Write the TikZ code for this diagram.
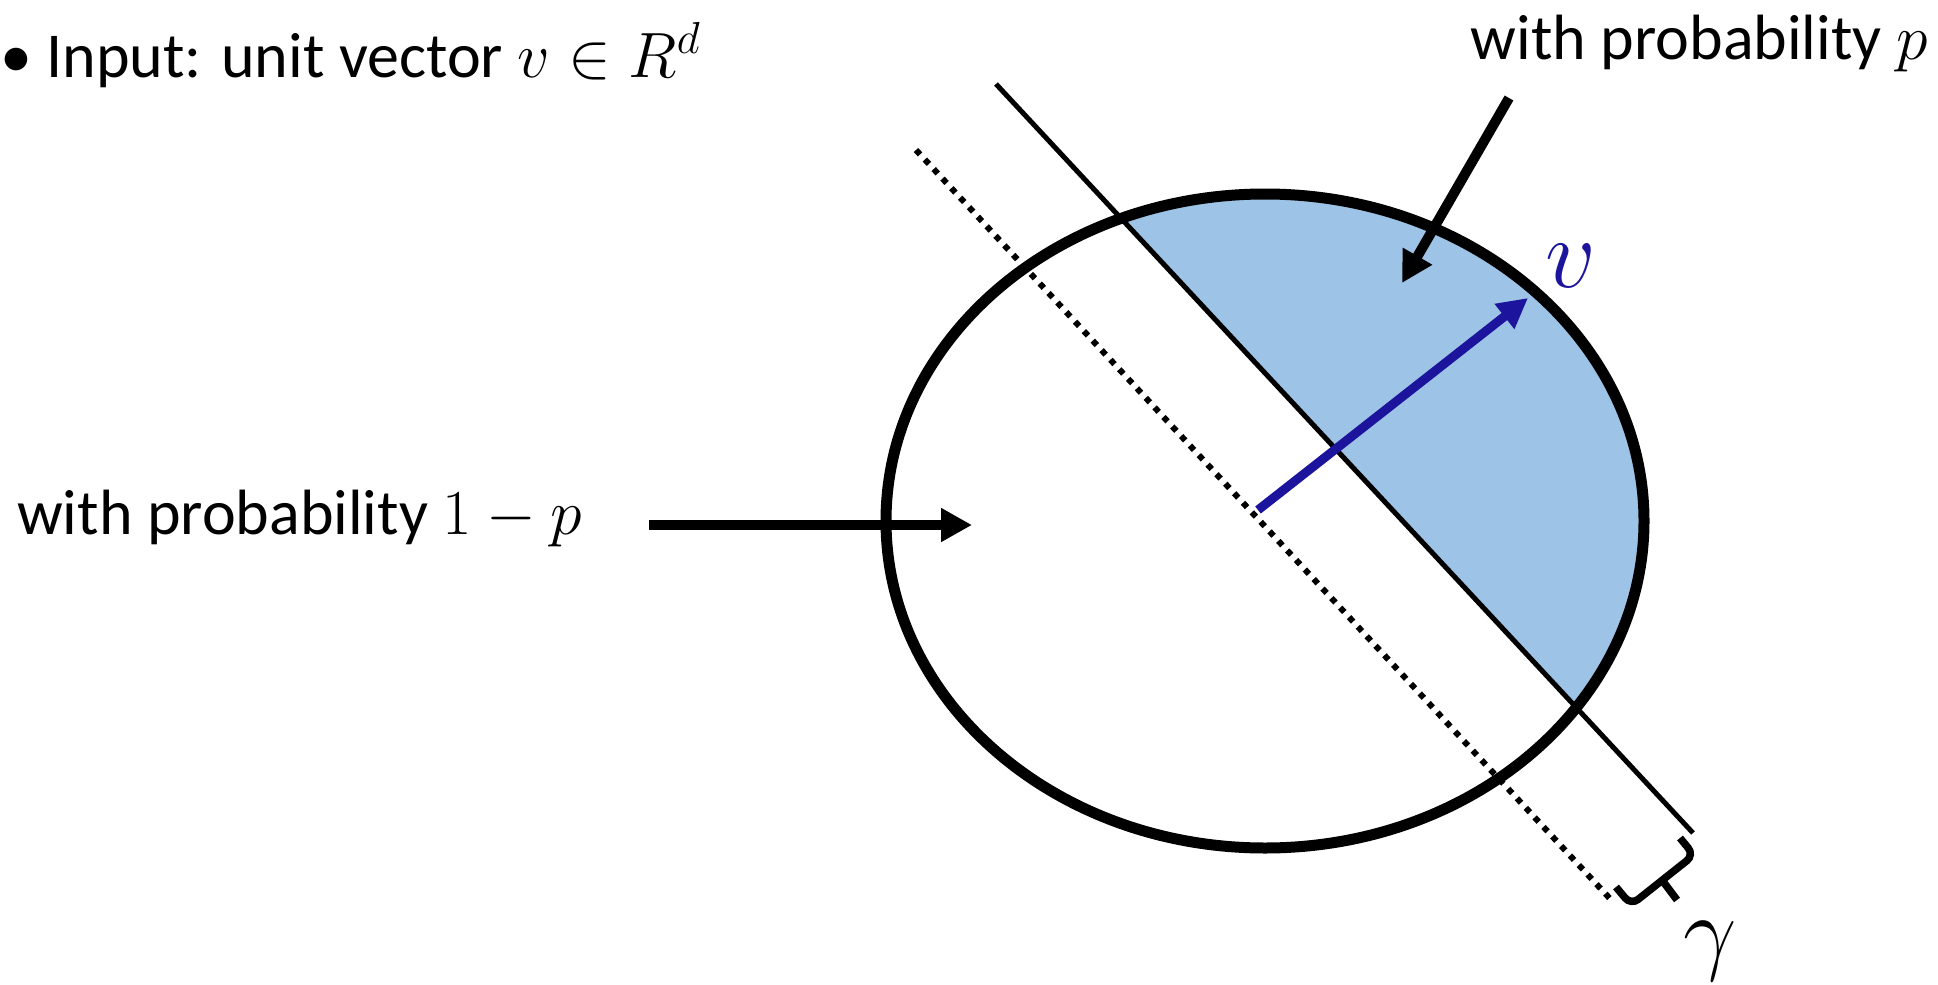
\RequirePackage{fix-cm}
\documentclass[tikz,border=0pt]{standalone}
\usepackage{fontspec}
\setmainfont{Carlito}
\usetikzlibrary{arrows.meta,calc}
\definecolor{segfill}{RGB}{157,195,230}
\definecolor{segedge}{RGB}{65,113,156}
\definecolor{vblue}{RGB}{28,20,156}
\begin{document}
\begin{tikzpicture}[x=1pt,y=-1pt,
  lbl/.style={inner sep=0pt, font=\fontsize{64}{77}\selectfont},
  bigmath/.style={inner sep=0pt, font=\fontsize{100}{120}\selectfont},
  blkarrow/.style={line width=10pt, -{Triangle[length=31pt,width=32pt]}},
  bluearrow/.style={vblue, line width=9pt, -{Triangle[length=30pt,width=30pt]}},
  ellstyle/.style={line width=11pt},
  cutline/.style={line width=5pt},
  dotline/.style={line width=6pt, dash pattern=on 6pt off 7pt},
  bracestyle/.style={line width=7.5pt, rounded corners=9pt}
]
\useasboundingbox (0,0) rectangle (1938,985);

\coordinate (C) at (1265,521);
\coordinate (L1) at (996,84);
\coordinate (L2) at (1693,833);
\coordinate (D1) at (916,150);
\coordinate (D2) at (1614,903);

% shaded cap
\begin{scope}
  \clip (C) ellipse [x radius=379, y radius=327];
  \fill[segfill, draw=segedge, line width=1.5pt, xshift=6pt]
    ($(L1)!-0.3!(L2)$) -- ($(L1)!1.3!(L2)$) -- (2200,1100) -- (2200,-200) -- cycle;
\end{scope}

% ball
\draw[ellstyle] (C) ellipse [x radius=379, y radius=327];

% lines
\draw[cutline] (L1) -- (L2);
\draw[dotline] (D1) -- (D2);

% vector v
\coordinate (vs) at (1258,510);
\coordinate (ve) at (1528,298);
\draw[bluearrow] (vs) -- (ve);
\node[bigmath, text=vblue, anchor=base west] (vlab) at (1545,287) {$v$};

% arrows
\coordinate (a1s) at (1509,98);
\coordinate (a1e) at (1402,283);
\draw[blkarrow] (a1s) -- (a1e);
\coordinate (a2s) at (649,525);
\coordinate (a2e) at (972,525);
\draw[blkarrow] (a2s) -- (a2e);

% bracket with stem and gamma
\coordinate (b1) at (1680,838);
\coordinate (bc1) at (1694,855);
\coordinate (bm) at (1662,880);
\coordinate (bc2) at (1631,905);
\coordinate (b2) at (1616,887);
\coordinate (btip) at (1677,900);
\draw[bracestyle] (b1) -- (bc1) -- (bc2) -- (b2);
\draw[line width=7.5pt] (bm) -- (btip);
\node[bigmath, anchor=base west, font=\fontsize{95}{110}\selectfont] (gam) at (1683,962) {$\gamma$};

% texts
\node[lbl, anchor=base west] (title) at (0,77) {\textbullet\ Input: unit vector $v\in R^d$};
\node[lbl, anchor=base east] (pright) at (1928,59) {with probability $p$};
\node[lbl, anchor=base west] (pleft) at (17,534) {with probability $1-p$};
\end{tikzpicture}
\end{document}
